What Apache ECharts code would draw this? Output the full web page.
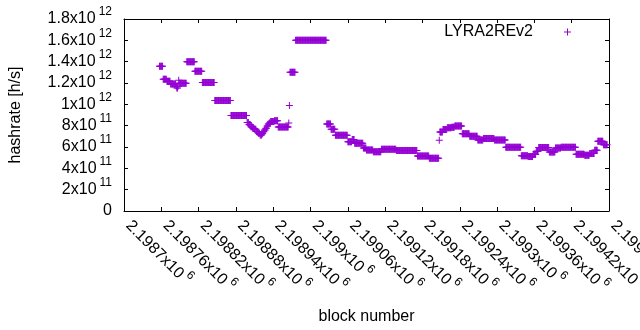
<!DOCTYPE html>
<html>
<head>
<meta charset="utf-8">
<script src="https://cdn.jsdelivr.net/npm/echarts@6/dist/echarts.min.js"></script>
<style>
  html, body { margin: 0; padding: 0; background: #fff; }
  #chart { width: 640px; height: 330px; }
</style>
</head>
<body>
<div id="chart"></div>
<script>
// ---- data ----
const seriesName = 'LYRA2REv2';
const xAxisTitle = 'block number';
const yAxisTitle = 'hashrate [h/s]';
const xMin = 2198700, xMax = 2199480, xStep = 60;      // block-number axis
const yMin = 0, yMax = 1800, yStep = 200;              // hashrate axis, in 10^9 h/s
// one value per consecutive block, starting at firstBlock (hashrate in 10^9 h/s)
const firstBlock = 2198757;
const hashrateGH = [
  1357,1357,1357,1357,1357,1357,
  1235,1235,1235,1235,1235,1235,
  1216,1216,1216,1216,1216,1216,
  1190,1190,1190,1190,1190,1190,1190,1190,1190,
  1170,1153,1153,1170,
  1225,
  1197,1197,1197,1197,1197,1197,1197,1197,1197,1197,1197,1197,
  1400,1400,1400,1400,1400,1400,1400,1400,1400,1400,1400,1400,1400,
  1310,1310,1310,1310,1310,1310,1310,1310,1310,1310,1310,1310,
  1205,1205,1205,1205,1205,1205,1205,1205,1205,1205,
  1205,1205,1205,1205,1205,1205,1205,1205,1205,1205,
  1036,1036,1036,1036,1036,1036,1036,1036,1036,1036,
  1036,1036,1036,1036,1036,1036,1036,1036,1036,1036,
  1036,1036,1036,1036,1036,1036,
  895,895,895,895,895,895,895,895,895,895,
  895,895,895,895,895,895,895,895,895,895,
  895,895,895,895,895,895,
  830,830,830,810,810,810,790,790,790,775,775,775,
  766,766,766,745,745,745,728,728,728,712,712,712,
  725,725,743,743,760,760,775,775,797,797,815,815,825,825,
  840,840,840,840,840,840,
  847,847,847,847,847,847,
  787,787,787,787,787,787,787,787,787,787,
  787,787,787,787,787,787,787,
  825,
  990,
  1300,1300,1300,1300,1300,1300,1300,1300,1300,
  1600,1600,1600,1600,1600,1600,1600,1600,1600,1600,
  1600,1600,1600,1600,1600,1600,1600,1600,1600,1600,
  1600,1600,1600,1600,1600,1600,1600,1600,1600,1600,
  1600,1600,1600,1600,1600,1600,1600,1600,1600,1600,
  1600,1600,1600,1600,1600,1600,1600,1600,1600,1600,
  816,816,816,816,816,816,816,
  766,766,766,766,766,766,766,
  710,710,710,710,710,710,710,710,710,710,
  710,710,710,710,710,710,710,710,710,710,
  649,649,649,649,649,649,649,
  670,670,670,670,
  635,635,635,635,635,635,635,635,635,635,635,635,635,635,
  590,590,590,590,590,
  572,572,572,572,572,572,572,572,572,572,572,
  556,556,556,556,556,556,556,556,556,556,556,556,556,
  578,578,578,578,578,578,578,578,578,578,
  578,578,578,578,578,578,578,578,578,578,
  578,578,578,578,
  567,567,567,567,567,567,567,567,567,567,
  567,567,567,567,567,567,567,567,567,567,
  567,567,567,567,567,567,567,567,567,567,
  567,567,567,567,
  516,516,516,516,516,516,516,516,516,516,
  516,516,516,516,516,516,516,516,516,
  494,494,494,494,494,494,494,494,494,494,
  494,494,494,494,494,494,
  663,
  740,740,740,740,740,
  765,765,765,765,765,765,765,
  780,780,780,780,780,780,780,
  785,785,785,785,785,
  797,797,797,797,797,797,797,797,797,797,797,797,
  725,725,725,725,725,725,725,725,725,725,725,725,
  700,700,700,700,700,700,700,700,700,700,700,700,700,
  666,666,666,666,666,666,666,666,666,
  680,680,680,680,680,680,680,680,680,680,
  680,680,680,680,680,680,680,680,
  666,666,666,666,666,666,666,666,666,666,
  666,666,666,666,666,666,666,666,
  597,597,597,597,597,597,597,597,597,597,
  597,597,597,597,597,597,597,597,597,597,
  597,597,597,597,597,
  518,518,518,518,518,518,518,518,518,518,518,
  510,510,510,510,510,510,510,510,
  530,530,530,530,530,
  560,560,560,560,
  595,595,595,595,595,595,595,595,595,595,
  595,595,595,595,595,595,595,
  553,553,553,553,553,553,553,553,553,553,
  590,590,590,590,590,590,590,590,590,
  597,597,597,597,597,597,597,597,597,597,
  597,597,597,597,597,597,597,597,597,597,
  597,597,597,597,
  531,531,531,531,531,531,531,531,531,531,531,531,531,531,
  522,522,522,522,522,522,522,522,
  540,540,540,540,540,540,540,540,
  570,570,570,570,570,
  653,653,653,653,653,653,653,653,653,
  620,620,620,620,620,620,620
];

// ---- build ----
const points = hashrateGH.map((v, i) => [firstBlock + i, v]);

const FONT = '"Liberation Sans", Arial, Helvetica, sans-serif';
const COLOR = '#9400D3';
const PLUS = 'path://M0,3H3V0H4V3H7V4H4V7H3V4H0Z';

function trimNum(n) { return String(parseFloat(n.toFixed(6))); }
function xLabel(v) {
  return '{m|' + trimNum(v / 1e6) + 'x10}{s|6}';
}
function yLabel(v) {
  if (v === 0) return '{z|0}';
  const e = v >= 1000 ? 12 : 11;
  const m = v / Math.pow(10, e - 9);
  return '{m|' + trimNum(m) + 'x10}{s|' + e + '}';
}
const richStyle = {
  m: { fontFamily: FONT, fontSize: 16, color: '#000', lineHeight: 26, verticalAlign: 'middle' },
  s: { fontFamily: FONT, fontSize: 12, color: '#000', lineHeight: 26, verticalAlign: 'top', padding: [0, 0, 0, 3] },
  z: { fontFamily: FONT, fontSize: 16, color: '#000', lineHeight: 26, verticalAlign: 'middle' }
};
const axisLine = { show: true, onZero: false, lineStyle: { color: '#000', width: 1 } };
const tick = { show: true, inside: true, length: 4, lineStyle: { color: '#000', width: 1 } };

const chart = echarts.init(document.getElementById('chart'), null, { renderer: 'canvas' });
chart.setOption({
  animation: false,
  backgroundColor: '#fff',
  textStyle: { fontFamily: FONT },
  grid: { left: 124, right: 31, top: 19, bottom: 119, containLabel: false, outerBoundsMode: 'none' },
  legend: {
    data: [seriesName],
    right: 69,
    top: 24,
    padding: 0,
    align: 'right',
    itemWidth: 7,
    itemHeight: 7,
    selectedMode: false,
    textStyle: { fontFamily: FONT, fontSize: 16, color: '#000', padding: [0, 26, 0, 0] }
  },
  xAxis: [
    {
      type: 'value', min: xMin, max: xMax, interval: xStep, position: 'bottom',
      name: xAxisTitle, nameLocation: 'middle', nameGap: 98,
      nameTextStyle: { fontFamily: FONT, fontSize: 16, color: '#000' },
      axisLine: axisLine, axisTick: tick, splitLine: { show: false },
      axisLabel: {
        show: true, rotate: -45, margin: 8, padding: [0, 0, 0, 6], interval: 0,
        showMinLabel: true, showMaxLabel: true,
        hideOverlap: false, formatter: xLabel, rich: richStyle
      }
    },
    {
      type: 'value', min: xMin, max: xMax, interval: xStep, position: 'top',
      axisLine: axisLine, axisTick: tick, splitLine: { show: false }, axisLabel: { show: false }
    }
  ],
  yAxis: [
    {
      type: 'value', min: yMin, max: yMax, interval: yStep, position: 'left',
      name: yAxisTitle, nameLocation: 'middle', nameGap: 100,
      nameTextStyle: { fontFamily: FONT, fontSize: 16, color: '#000' },
      axisLine: axisLine, axisTick: tick, splitLine: { show: false },
      axisLabel: { show: true, margin: 12, formatter: yLabel, rich: richStyle }
    },
    {
      type: 'value', min: yMin, max: yMax, interval: yStep, position: 'right',
      axisLine: axisLine, axisTick: tick, splitLine: { show: false }, axisLabel: { show: false }
    }
  ],
  series: [{
    name: seriesName,
    type: 'scatter',
    xAxisIndex: 0, yAxisIndex: 0,
    data: points,
    symbol: PLUS,
    symbolSize: 7,
    large: false,
    itemStyle: { color: COLOR, opacity: 1 },
    emphasis: { disabled: true }
  }]
});
</script>
</body>
</html>
